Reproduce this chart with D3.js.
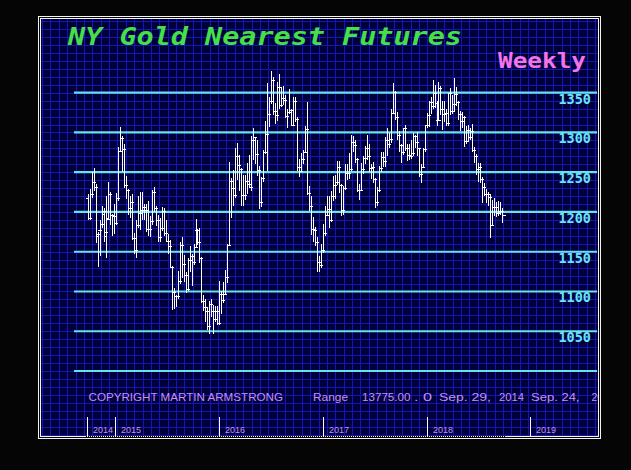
<!DOCTYPE html>
<html>
<head>
<meta charset="utf-8">
<script src="https://cdn.jsdelivr.net/npm/d3@7"></script>
<style>
html,body{margin:0;padding:0;background:#050505;}
svg{display:block;}
</style>
</head>
<body>
<svg id="chart" width="631" height="470"></svg>
<script>
// ---------- DATA (weekly OHLC, NY gold nearest futures, week of 2014-09-29 .. 2018-09-24) ----------
const firstWeek = "2014-09-29";
const opens = [
1218,1192,1222,1238,1231,1170,1177,1185,1198,1170,1192,1222,1196,1195,
1186,1217,1277,1293,1279,1234,1228,1205,1213,1167,1152,1184,1199,1202,1206,1203,1178,1179,1189,1225,1205,1190,1168,1180,1201,1173,1164,1157,1131,1099,1094,1094,1113,1159,1134,1121,1103,1139,1145,1137,1156,1177,1162,1142,1088,1081,1076,1056,1084,1075,1065,1076,
1060,1097,1089,1097,1118,1158,1239,1230,1221,1270,1259,1254,1221,1221,1239,1235,1232,1290,1294,1273,1253,1212,1243,1276,1298,1323,1339,1366,1327,1322,1357,1335,1343,1341,1321,1326,1328,1310,1340,1317,1257,1252,1266,1276,1304,1224,1207,1178,1177,1162,1137,1133,
1152,1173,1196,1204,1190,1220,1234,1238,1257,1234,1203,1230,1249,1249,1254,1288,1284,1266,1228,1228,1254,1268,1280,1271,1255,1256,1242,1212,1228,1255,1269,1264,1290,1285,1292,1325,1351,1320,1297,1284,1275,1305,1280,1272,1270,1274,1296,1288,1280,1248,1257,1279,
1309,1322,1338,1333,1350,1337,1316,1356,1330,1323,1324,1312,1349,1327,1336,1348,1338,1323,1315,1320,1289,1303,1294,1302,1278,1270,1254,1256,1241,1231,1223,1223,1219,1184,1206,1206,1199,1201,1201
];
const highs = [
1222,1229,1250,1255,1235,1175,1190,1208,1205,1220,1238,1225,1198,1210,
1224,1282,1307,1296,1285,1245,1229,1220,1223,1173,1190,1220,1225,1225,1210,1210,1214,1195,1228,1232,1208,1196,1192,1206,1205,1190,1172,1165,1132,1104,1096,1126,1162,1169,1146,1124,1142,1157,1147,1160,1191,1178,1180,1143,1095,1090,1081,1088,1090,1083,1082,1082,
1113,1100,1112,1127,1160,1263,1243,1253,1280,1287,1272,1255,1246,1247,1262,1272,1296,1306,1294,1290,1258,1244,1278,1315,1362,1345,1377,1370,1337,1363,1374,1357,1358,1347,1330,1355,1330,1345,1345,1320,1266,1274,1278,1308,1338,1233,1220,1194,1181,1168,1144,1160,
1185,1207,1220,1220,1226,1245,1246,1264,1264,1235,1233,1260,1260,1274,1297,1295,1290,1268,1235,1262,1271,1283,1297,1285,1260,1263,1243,1232,1258,1275,1275,1294,1306,1299,1329,1362,1352,1326,1302,1286,1306,1310,1285,1285,1290,1299,1297,1300,1281,1260,1280,1310,
1325,1340,1345,1366,1360,1340,1364,1358,1340,1340,1330,1350,1356,1347,1369,1357,1340,1327,1326,1321,1308,1309,1306,1311,1282,1273,1262,1262,1244,1236,1229,1225,1222,1215,1217,1212,1214,1213,1205
];
const lows = [
1190,1190,1218,1226,1161,1131,1145,1180,1162,1142,1190,1184,1170,1172,
1183,1214,1276,1250,1230,1216,1196,1192,1165,1147,1142,1180,1177,1190,1190,1175,1170,1168,1183,1200,1182,1162,1162,1176,1170,1162,1147,1130,1077,1078,1080,1090,1110,1117,1112,1098,1101,1124,1107,1133,1155,1159,1136,1085,1075,1062,1052,1046,1068,1047,1062,1058,
1058,1072,1085,1096,1111,1157,1192,1208,1218,1240,1226,1208,1207,1215,1222,1230,1227,1265,1260,1245,1204,1206,1238,1273,1251,1307,1336,1322,1311,1314,1330,1332,1335,1318,1305,1323,1308,1310,1313,1251,1244,1250,1260,1276,1221,1201,1171,1162,1157,1124,1125,1130,
1148,1170,1195,1180,1188,1214,1216,1234,1224,1195,1196,1228,1240,1242,1252,1275,1262,1225,1215,1227,1248,1260,1265,1250,1242,1236,1205,1208,1225,1250,1256,1256,1271,1280,1287,1323,1316,1290,1275,1262,1272,1277,1264,1265,1266,1270,1280,1270,1244,1236,1255,1275,
1305,1307,1323,1330,1331,1308,1315,1322,1303,1313,1308,1308,1322,1323,1326,1333,1316,1302,1305,1282,1286,1288,1291,1275,1261,1246,1238,1237,1211,1220,1211,1208,1167,1182,1195,1194,1195,1196,1186
];
const closes = [
1192,1222,1238,1231,1172,1177,1185,1201,1175,1191,1222,1196,1195,1186,
1217,1277,1293,1279,1234,1228,1205,1213,1167,1152,1184,1199,1202,1206,1203,1178,1179,1189,1225,1205,1190,1168,1180,1201,1173,1164,1157,1131,1099,1094,1094,1113,1159,1134,1121,1103,1139,1145,1137,1156,1177,1162,1142,1088,1081,1076,1056,1084,1075,1065,1076,1060,
1097,1089,1097,1118,1158,1239,1230,1221,1270,1259,1254,1221,1221,1239,1235,1232,1290,1294,1273,1253,1212,1243,1276,1298,1323,1339,1366,1327,1322,1357,1335,1343,1341,1321,1326,1328,1310,1340,1317,1257,1252,1266,1276,1304,1224,1207,1178,1177,1162,1137,1133,1152,
1173,1196,1204,1190,1220,1234,1238,1257,1234,1203,1230,1249,1249,1254,1288,1284,1266,1228,1228,1254,1268,1280,1271,1255,1256,1242,1212,1228,1255,1269,1264,1290,1285,1292,1325,1351,1320,1297,1284,1275,1305,1280,1272,1270,1274,1296,1288,1280,1248,1257,1279,1309,
1322,1338,1333,1350,1337,1316,1356,1330,1323,1324,1312,1349,1327,1336,1348,1338,1323,1315,1320,1289,1303,1294,1302,1278,1270,1254,1256,1241,1231,1223,1223,1219,1184,1206,1206,1199,1201,1201,1196
];
const priceLevels = [1000,1050,1100,1150,1200,1250,1300,1350];
const priceLabels = ["1050","1100","1150","1200","1250","1300","1350"];
const yearTickDates = ["2014-09-24","2015-01-01","2016-01-01","2017-01-01","2018-01-01","2019-01-01"];
const yearLabels = ["2014","2015","2016","2017","2018","2019"];
const titleText = "NY Gold Nearest Futures";
const periodText = "Weekly";
const footerParts = ["COPYRIGHT MARTIN ARMSTRONG","Range","13775.00",". 0","Sep. 29,","2014","Sep. 24,","2018"];

// ---------- LAYOUT ----------
const W = 631, H = 470;
const svg = d3.select("#chart");
const parse = d3.timeParse("%Y-%m-%d");
const start = parse(firstWeek);
const dates = closes.map((_, i) => d3.timeDay.offset(start, 7 * i));

const x = d3.scaleTime()
  .domain([parse("2015-01-01"), parse("2019-01-01")])
  .range([114.7, 530.4]);
const y = d3.scaleLinear().domain([1000, 1350]).range([371, 92.7]);

const frame = {x0: 40.5, y0: 18.5, x1: 598.5, y1: 436.5};

svg.append("rect").attr("width", W).attr("height", H).attr("fill", "#050505");

const defs = svg.append("defs");
defs.append("clipPath").attr("id", "plotclip").append("rect")
  .attr("x", frame.x0 + 0.5).attr("y", frame.y0 + 0.5)
  .attr("width", frame.x1 - frame.x0 - 1).attr("height", frame.y1 - frame.y0 - 1);

// outer frame
svg.append("rect").attr("x", 38.5).attr("y", 16.5).attr("width", 562).attr("height", 422)
  .attr("fill", "none").attr("stroke", "#f4f4f4").attr("stroke-width", 1);
// inner panel
svg.append("rect").attr("x", frame.x0).attr("y", frame.y0)
  .attr("width", frame.x1 - frame.x0).attr("height", frame.y1 - frame.y0)
  .attr("fill", "#000038").attr("stroke", "#f4f4f4").attr("stroke-width", 1);

const plot = svg.append("g").attr("clip-path", "url(#plotclip)");

// blue grid
const grid = plot.append("g").attr("stroke", "#1414b8").attr("stroke-width", 1)
  .attr("shape-rendering", "crispEdges");
const rowPrices = d3.range(910, 1450, 10);
grid.selectAll("line.h").data(rowPrices).join("line").attr("class", "h")
  .attr("x1", frame.x0).attr("x2", frame.x1)
  .attr("y1", d => Math.round(y(d)) + 0.5).attr("y2", d => Math.round(y(d)) + 0.5);
const colX = d3.range(42, 600, 8.38);
grid.selectAll("line.v").data(colX).join("line").attr("class", "v")
  .attr("y1", frame.y0).attr("y2", frame.y1)
  .attr("x1", d => Math.round(d) + 0.5).attr("x2", d => Math.round(d) + 0.5);

// cyan price levels
plot.append("g").selectAll("line").data(priceLevels).join("line")
  .attr("x1", 74).attr("x2", 597)
  .attr("y1", d => y(d)).attr("y2", d => y(d))
  .attr("stroke", "#62e2f2").attr("stroke-width", 2.2);

plot.append("g").selectAll("text").data(priceLabels).join("text")
  .attr("x", 591).attr("y", d => y(+d) + 11)
  .attr("text-anchor", "end")
  .attr("font-family", "DejaVu Sans Mono, monospace").attr("font-weight", "bold")
  .attr("font-size", 13.5).attr("fill", "#66e6f6")
  .text(d => d);

// OHLC bars
const bars = plot.append("g").attr("stroke", "#ffffff").attr("stroke-width", 1)
  .attr("shape-rendering", "crispEdges");
const idx = d3.range(closes.length);
const bx = i => Math.round(x(dates[i])) + 0.5;
bars.selectAll("line.hl").data(idx).join("line").attr("class", "hl")
  .attr("x1", bx).attr("x2", bx)
  .attr("y1", i => Math.round(y(highs[i]))).attr("y2", i => Math.round(y(lows[i])));
bars.selectAll("line.o").data(idx).join("line").attr("class", "o")
  .attr("x1", i => bx(i) - 2.5).attr("x2", i => bx(i))
  .attr("y1", i => Math.round(y(opens[i])) + 0.5).attr("y2", i => Math.round(y(opens[i])) + 0.5);
bars.selectAll("line.c").data(idx).join("line").attr("class", "c")
  .attr("x1", i => bx(i)).attr("x2", i => bx(i) + 3)
  .attr("y1", i => Math.round(y(closes[i])) + 0.5).attr("y2", i => Math.round(y(closes[i])) + 0.5);

// title
svg.append("text").attr("x", 68).attr("y", 45)
  .attr("font-family", "DejaVu Sans Mono, monospace").attr("font-weight", "bold")
  .attr("font-style", "italic").attr("font-size", 24)
  .attr("fill", "#46e046")
  .attr("textLength", 394).attr("lengthAdjust", "spacingAndGlyphs")
  .text(titleText);

svg.append("text").attr("x", 498).attr("y", 68)
  .attr("font-family", "DejaVu Sans Mono, monospace").attr("font-weight", "bold")
  .attr("font-size", 21).attr("fill", "#f274e6")
  .attr("textLength", 88).attr("lengthAdjust", "spacingAndGlyphs")
  .text(periodText);

// footer
const footerX = [88.5, 313, 362, 414, 439, 499, 531, 591.5];
const footerLen = [194.5, 35, 48.5, 18, 52, 25, 48.5, null];
plot.append("g").selectAll("text").data(footerParts).join("text")
  .attr("x", (d, i) => footerX[i]).attr("y", 400.5)
  .attr("font-family", "Liberation Sans, Arial, sans-serif")
  .attr("font-size", 10.5).attr("fill", "#c88ef2")
  .attr("textLength", (d, i) => footerLen[i])
  .attr("lengthAdjust", (d, i) => footerLen[i] ? "spacingAndGlyphs" : null)
  .text(d => d);

// year ticks
const tickX = yearTickDates.map(d => Math.round(x(parse(d))) + 0.5);
svg.append("g").selectAll("line").data(tickX).join("line")
  .attr("x1", d => d).attr("x2", d => d).attr("y1", 417).attr("y2", 436.5)
  .attr("stroke", "#ffffff").attr("stroke-width", 1).attr("shape-rendering", "crispEdges");
svg.append("g").selectAll("text").data(yearLabels).join("text")
  .attr("x", (d, i) => tickX[i] + 5.5).attr("y", 432.5)
  .attr("font-family", "Liberation Sans, Arial, sans-serif")
  .attr("font-size", 9).attr("fill", "#c88ef2")
  .text(d => d);

// dotted data-extent marker on bottom border
svg.append("line")
  .attr("x1", x(dates[0]) - 2).attr("x2", x(dates[dates.length - 1]) + 3)
  .attr("y1", frame.y1).attr("y2", frame.y1)
  .attr("stroke", "#000000").attr("stroke-width", 1).attr("stroke-dasharray", "1,1")
  .attr("shape-rendering", "crispEdges");
</script>
</body>
</html>
